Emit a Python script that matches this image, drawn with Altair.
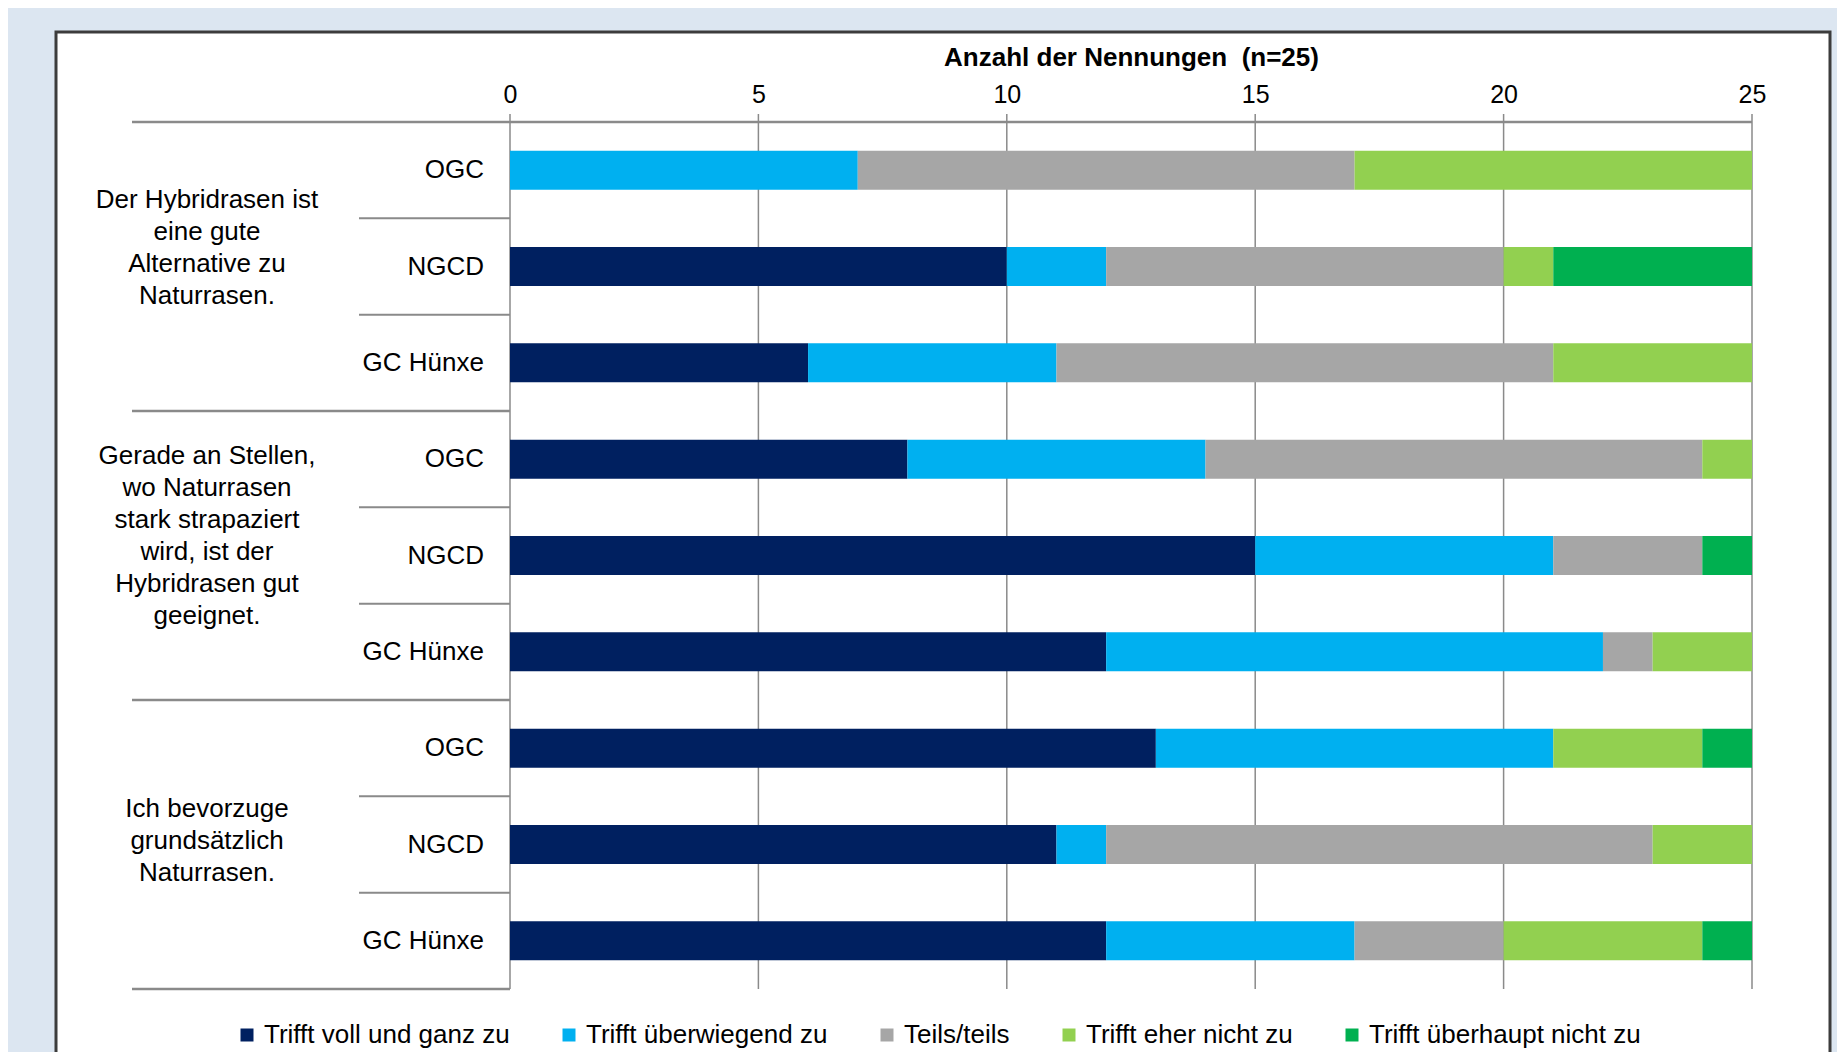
import altair as alt
import pandas as pd

FONT = "Liberation Sans"

# ---------------- data ----------------
questions = [
    "Der Hybridrasen ist\neine gute\nAlternative zu\nNaturrasen.",
    "Gerade an Stellen,\nwo Naturrasen\nstark strapaziert\nwird, ist der\nHybridrasen gut\ngeeignet.",
    "Ich bevorzuge\ngrundsätzlich\nNaturrasen.",
]
sites = ["OGC", "NGCD", "GC Hünxe"]
categories = [
    "Trifft voll und ganz zu",
    "Trifft überwiegend zu",
    "Teils/teils",
    "Trifft eher nicht zu",
    "Trifft überhaupt nicht zu",
]
colors = ["#002060", "#00b0f0", "#a6a6a6", "#92d050", "#00b050"]
x_ticks = [0, 5, 10, 15, 20, 25]
axis_title = "Anzahl der Nennungen\u00a0\u00a0(n=25)"

# rows: question 1 (OGC, NGCD, GC Hünxe), question 2 (...), question 3 (...)
voll = [0, 10, 6, 8, 15, 12, 13, 11, 12]
ueberwiegend = [7, 2, 5, 6, 6, 10, 8, 1, 5]
teils = [10, 8, 10, 10, 3, 1, 0, 11, 3]
eher_nicht = [8, 1, 4, 1, 0, 2, 3, 2, 4]
ueberhaupt_nicht = [0, 4, 0, 0, 1, 0, 1, 0, 1]
series = [voll, ueberwiegend, teils, eher_nicht, ueberhaupt_nicht]

row_keys = [f"{qi}|{s}" for qi in range(len(questions)) for s in sites]

bars = pd.DataFrame([
    {"row": row_keys[r], "cat": categories[c], "order": c, "value": series[c][r]}
    for r in range(len(row_keys)) for c in range(len(categories))
    if series[c][r] > 0
])

site_labels = pd.DataFrame({"row": row_keys, "site": [s for _ in questions for s in sites]})
tick_df = pd.DataFrame({"t": x_ticks})

# ---------------- layout constants ----------------
W, H = 1242, 867
LINE = "#8a8a8a"
yscale = alt.Scale(domain=row_keys, paddingInner=0, paddingOuter=0)
xscale = alt.Scale(domain=[0, 25], nice=False, zero=True)


def Y(bp=0.5):
    return alt.Y("row:N", scale=yscale, axis=None, bandPosition=bp)


one = pd.DataFrame({"a": [0]})

frame = alt.Chart(one).mark_rect(fill="white", stroke="#3c3c3c", strokeWidth=3).encode(
    x=alt.value(-454), x2=alt.value(1320), y=alt.value(-90), y2=alt.value(1000)
)

grid = alt.Chart(tick_df).mark_rule(color=LINE, strokeWidth=1.5).encode(
    x=alt.X("t:Q", scale=xscale),
    y=alt.value(-8), y2=alt.value(H),
)

bar_layer = alt.Chart(bars).mark_bar(height=39).encode(
    x=alt.X(
        "value:Q", stack="zero", scale=xscale,
        axis=alt.Axis(
            orient="top", values=x_ticks, format="d", grid=False, domain=False,
            ticks=False, labelPadding=15, labelFontSize=25, labelFont=FONT,
            labelColor="black", labelFlush=False, title=axis_title,
            titleFont=FONT, titleFontSize=26, titleFontWeight="bold",
            titleColor="black", titlePadding=12, zindex=2,
        ),
    ),
    y=Y(),
    color=alt.Color(
        "cat:N", scale=alt.Scale(domain=categories, range=colors),
        legend=alt.Legend(
            title=None, orient="none", legendX=-276, legendY=900,
            direction="horizontal", columns=5, columnPadding=46,
            symbolType="square", symbolSize=169, symbolStrokeWidth=0,
            labelFont=FONT, labelFontSize=26, labelColor="black",
            labelOffset=4, labelLimit=600,
        ),
    ),
    order=alt.Order("order:Q"),
)

# separator lines in the label area
top_line = alt.Chart(pd.DataFrame({"row": [row_keys[0]]})).mark_rule(color=LINE, strokeWidth=2.5).encode(
    y=Y(0), x=alt.value(-378), x2=alt.value(W)
)
group_lines = alt.Chart(pd.DataFrame({"row": [row_keys[3], row_keys[6]]})).mark_rule(color=LINE, strokeWidth=2.5).encode(
    y=Y(0), x=alt.value(-378), x2=alt.value(0)
)
bottom_line = alt.Chart(pd.DataFrame({"row": [row_keys[-1]]})).mark_rule(color=LINE, strokeWidth=2.5).encode(
    y=Y(1), x=alt.value(-378), x2=alt.value(0)
)
sub_lines = alt.Chart(pd.DataFrame({"row": [row_keys[i] for i in (1, 2, 4, 5, 7, 8)]})).mark_rule(color=LINE, strokeWidth=2).encode(
    y=Y(0), x=alt.value(-151), x2=alt.value(0)
)

site_text = alt.Chart(site_labels).mark_text(
    align="right", baseline="middle", font=FONT, fontSize=26, color="black"
).encode(x=alt.value(-26), y=Y(), text="site:N")

# vertical offset of the first line of each wrapped question label
group_dy = [-67, -100, -36]
group_texts = []
for qi, q in enumerate(questions):
    df = pd.DataFrame({"row": [row_keys[qi * 3 + 1]], "q": [q]})
    group_texts.append(
        alt.Chart(df).mark_text(
            align="center", baseline="middle", lineBreak="\n", lineHeight=32,
            font=FONT, fontSize=26, color="black", dy=group_dy[qi],
        ).encode(x=alt.value(-303), y=Y(), text="q:N")
    )

chart = alt.layer(
    frame, grid, bar_layer, top_line, group_lines, bottom_line, sub_lines, site_text, *group_texts
).properties(
    width=W, height=H,
    autosize=alt.AutoSizeParams(type="none"),
    padding={"left": 502, "top": 114, "right": 85, "bottom": 63},
    background="#dce6f1",
).configure_view(stroke=None)

chart.save("out.html", embed_options={"renderer": "svg", "actions": False})
